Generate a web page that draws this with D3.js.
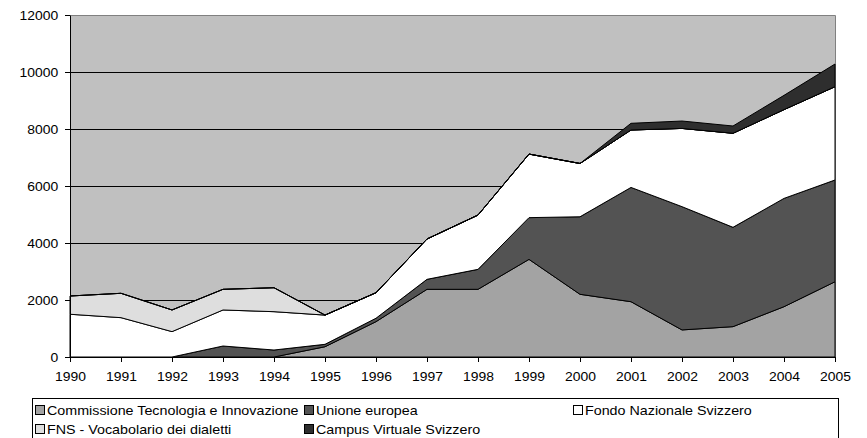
<!DOCTYPE html>
<html><head><meta charset="utf-8">
<script src="https://cdn.jsdelivr.net/npm/d3@7"></script>
<style>
body{margin:0;background:#fff}
svg{display:block}
text{font-family:"Liberation Sans",Arial,sans-serif;fill:#000}
</style>
</head><body>
<svg id="chart" width="867" height="438"></svg>
<script>
// ---- data ----
const years = [1990,1991,1992,1993,1994,1995,1996,1997,1998,1999,2000,2001,2002,2003,2004,2005];
const cti    = [0,0,0,0,0,360,1240,2375,2375,3425,2200,1940,950,1065,1765,2640];
const ue     = [0,0,0,385,245,85,120,350,700,1465,2720,4010,4325,3485,3800,3570];
const fns    = [1500,1380,890,1265,1345,1025,895,1415,1905,2230,1870,2015,2745,3300,3115,3275];
const voc    = [640,855,760,725,840,0,0,0,0,0,0,0,0,0,0,0];
const campus = [0,0,0,0,0,0,0,0,0,0,0,235,260,255,500,795];
const seriesNames = ["Commissione Tecnologia e Innovazione","Unione europea","Fondo Nazionale Svizzero","FNS - Vocabolario dei dialetti","Campus Virtuale Svizzero"];
const yTicks = [0,2000,4000,6000,8000,10000,12000];

// ---- styles ----
const colors = ["#a3a3a3","#535353","#ffffff","#dedede","#2e2e2e"];
const margin = {left:70, right:835, top:15, bottom:357};

const svg = d3.select("#chart");
const keys = ["cti","ue","fns","voc","campus"];
const allSeries = [cti,ue,fns,voc,campus];
const rows = years.map((yr,i)=>{
  const r = {year:yr};
  keys.forEach((k,j)=>r[k]=allSeries[j][i]);
  return r;
});
const stacked = d3.stack().keys(keys)(rows);

const x = d3.scaleLinear().domain([1990,2005]).range([margin.left, margin.right]);
const y = d3.scaleLinear().domain([0,12000]).range([margin.bottom, margin.top]);

// plot background
svg.append("rect").attr("x",margin.left).attr("y",margin.top)
  .attr("width",margin.right-margin.left).attr("height",margin.bottom-margin.top)
  .attr("fill","#c0c0c0");
// grid lines
svg.append("g").selectAll("line").data(yTicks.filter(t=>t>0 && t<12000)).join("line")
  .attr("x1",margin.left).attr("x2",margin.right)
  .attr("y1",d=>Math.round(y(d))+0.5).attr("y2",d=>Math.round(y(d))+0.5)
  .attr("stroke","#000").attr("stroke-width",1);
// top and right border
svg.append("path")
  .attr("d",`M${margin.left},${margin.top+0.5}H${margin.right+0.5}V${margin.bottom}`)
  .attr("fill","none").attr("stroke","#808080").attr("stroke-width",1);

// areas
const area = d3.area()
  .x(d=>x(d.data.year)).y0(d=>y(d[0])).y1(d=>y(d[1]));
svg.append("g").selectAll("path").data(stacked).join("path")
  .attr("d",area)
  .attr("fill",(d,i)=>colors[i])
  .attr("stroke","#000").attr("stroke-width",1).attr("stroke-linejoin","round");

// axes
const yAxis = d3.axisLeft(y).tickValues(yTicks).tickSize(5).tickSizeOuter(0).tickPadding(6).tickFormat(d3.format("d"));
const gy = svg.append("g").attr("transform",`translate(${margin.left},0)`).call(yAxis);
const xAxis = d3.axisBottom(x).tickValues(years).tickSize(5).tickSizeOuter(0).tickPadding(10).tickFormat(d3.format("d"));
const gx = svg.append("g").attr("transform",`translate(0,${margin.bottom})`).call(xAxis);
[gx,gy].forEach(g=>{
  g.selectAll(".domain").attr("stroke","#000");
  g.selectAll(".tick line").attr("stroke","#000");
  g.selectAll("text").attr("font-size",13).attr("font-family",'"Liberation Sans",Arial,sans-serif')
    .attr("fill","#000").attr("transform","scale(1.07,1)");
});

// legend
const lg = svg.append("g");
lg.append("rect").attr("x",32.5).attr("y",398.5).attr("width",806).attr("height",50)
  .attr("fill","#fff").attr("stroke","#000").attr("stroke-width",1);
const colX = [35,304,573], rowY = [410,429];
const pos = [[0,0],[1,0],[2,0],[0,1],[1,1]];
seriesNames.forEach((name,i)=>{
  const px = colX[pos[i][0]], py = rowY[pos[i][1]];
  lg.append("rect").attr("x",px+0.5).attr("y",py-4.5).attr("width",9).attr("height",9)
    .attr("fill",colors[i]).attr("stroke","#000").attr("stroke-width",1);
  lg.append("text").attr("transform",`translate(${px+12},${py+4.5}) scale(1.1,1)`)
    .attr("font-size",13).text(name);
});
</script>
</body></html>
